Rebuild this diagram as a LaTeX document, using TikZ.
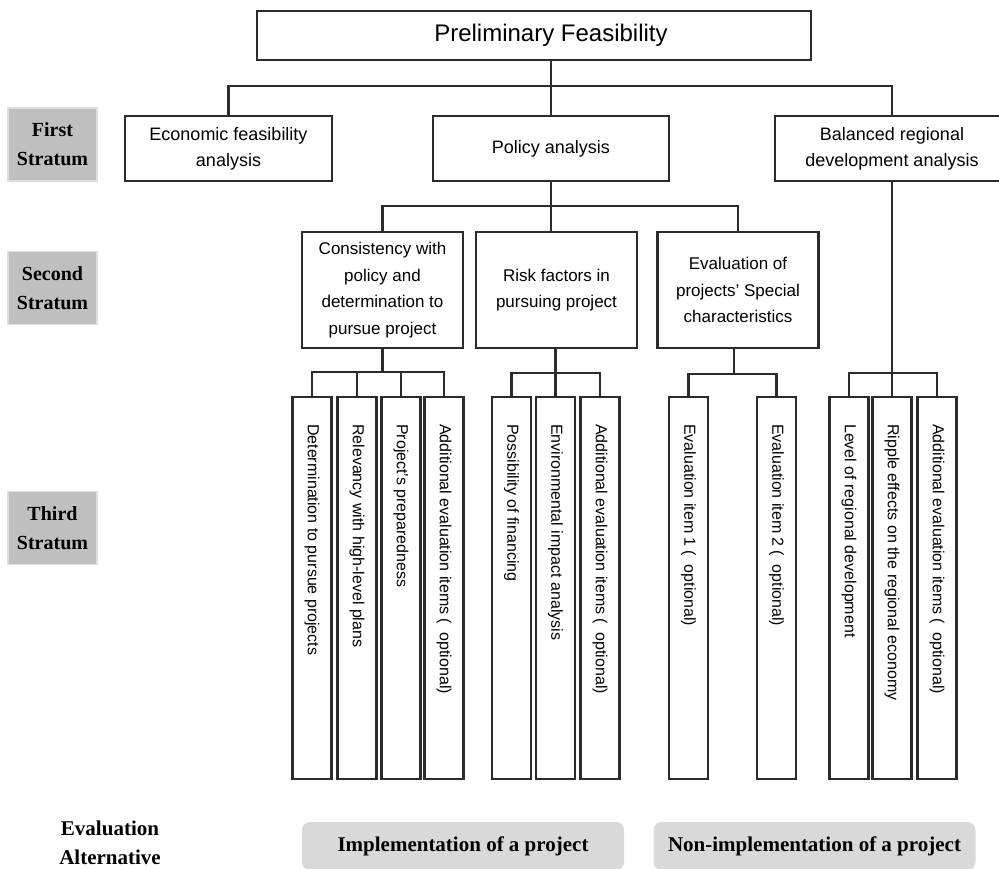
\documentclass[tikz,border=0pt]{standalone}
\usepackage{fontspec}
\setmainfont{Liberation Sans}
\newfontfamily\labelserif{Liberation Serif}
\definecolor{linegray}{HTML}{2B2B2B}
\definecolor{stratumfill}{HTML}{BFBFBF}
\definecolor{stratumedge}{HTML}{DEDEDE}
\definecolor{altfill}{HTML}{D9D9D9}
% wide opening bracket used in the optional-item labels
\newcommand{\fwparen}{\hspace{0.25em}(\hspace{0.55em}}
\begin{document}
\begin{tikzpicture}[x=1pt,y=-1pt,
  conn/.style={draw=linegray, line width=2.2pt},
  box/.style={rectangle, draw=linegray, line width=2.2pt, fill=white,
    inner sep=0pt, align=center},
  toptext/.style={font=\fontsize{24}{28}\selectfont},
  firstbox/.style={box, minimum height=65, font=\fontsize{18}{26}\selectfont},
  secondbox/.style={box, minimum width=161, minimum height=116,
    font=\fontsize{17}{26.7}\selectfont},
  leaf/.style={box, minimum width=39, minimum height=382},
  leaftext/.style={rotate=-90, anchor=west, inner sep=0pt,
    font=\fontsize{16}{19}\selectfont},
  stratum/.style={rectangle, fill=stratumfill, draw=stratumedge, line width=1.5pt,
    minimum width=89, minimum height=73, inner sep=0pt, align=center,
    font=\labelserif\bfseries\fontsize{20}{29}\selectfont},
  altbox/.style={rectangle, rounded corners=8pt, fill=altfill, minimum width=322,
    minimum height=48, inner sep=0pt,
    font=\labelserif\bfseries\fontsize{21}{25}\selectfont},
  altlabel/.style={align=center, inner sep=0pt,
    font=\labelserif\bfseries\fontsize{21}{29}\selectfont}
]
\useasboundingbox (0,0) rectangle (999,868);

% stratum labels on the left
\node[stratum] (s1) at (52.5,144.5) {First\\Stratum};
\node[stratum] (s2) at (52.5,288) {Second\\Stratum};
\node[stratum] (s3) at (52.5,528) {Third\\Stratum};

% root
\node[box, minimum width=554, minimum height=49] (top) at (534,35.5) {};
\node[toptext] (toplabel) at (551,35.5) {Preliminary Feasibility};

% first stratum
\node[firstbox, minimum width=207] (econ) at (228.5,148.5) {Economic feasibility\\analysis};
\node[firstbox, minimum width=236] (pol) at (551,148.5) {Policy analysis};
\node[firstbox, minimum width=234] (bal) at (892,148.5) {Balanced regional\\development analysis};

\coordinate (bus1) at (551,86);
\draw[conn] (toplabel|-top.south) -- (pol.north);
\draw[conn] (econ.north) |- (bus1) -| (bal.north);

% second stratum
\node[secondbox] (cons) at (382.5,290) {Consistency with\\policy and\\determination to\\pursue project};
\node[secondbox] (risk) at (556.5,290) {Risk factors in\\pursuing project};
\node[secondbox] (evalp) at (738,290) {Evaluation of\\projects’ Special\\characteristics};

\coordinate (bus2) at (551,206);
\draw[conn] (pol.south) -- (bus2) -- (bus2|-risk.north);
\draw[conn] (cons.north) |- (bus2) -| (evalp.north);

% third stratum
\foreach \n/\x/\t in {
  c1/312/{Determination to pursue projects},
  c2/357/{Relevancy with high-level plans},
  c3/401/{Project’s preparedness},
  c4/444/{Additional evaluation items\fwparen optional)},
  r1/511.5/{Possibility of financing},
  r2/555.5/{Environmental impact analysis},
  r3/600/{Additional evaluation items\fwparen optional)},
  e1/688.5/{Evaluation item 1\fwparen optional)},
  e2/776.5/{Evaluation item 2\fwparen optional)},
  b1/849/{Level of regional development},
  b2/892/{Ripple effects on the regional economy},
  b3/937/{Additional evaluation items\fwparen optional)}}{
  \node[leaf] (\n) at (\x,588) {};
  \node[leaftext] (\n-t) at ([yshift=-28pt]\n.north) {\t};
}

\coordinate (consbus) at (382.5,372);
\draw[conn] (cons.south) -- (consbus);
\draw[conn] (c1.north) |- (consbus) -| (c4.north);
\draw[conn] (c2.north) -- (c2.north|-consbus);
\draw[conn] (c3.north) -- (c3.north|-consbus);

\coordinate (riskbus) at (555.5,373);
\draw[conn] (risk.south-|riskbus) -- (riskbus);
\draw[conn] (r1.north) |- (riskbus) -| (r3.north);
\draw[conn] (r2.north) -- (riskbus);

\coordinate (evalbus) at (734,374);
\draw[conn] (evalp.south-|evalbus) -- (evalbus);
\draw[conn] (e1.north) |- (evalbus) -| (e2.north);

\coordinate (balbus) at (892,373);
\draw[conn] (bal.south) -- (balbus);
\draw[conn] (b1.north) |- (balbus) -| (b3.north);
\draw[conn] (b2.north) -- (balbus);

% evaluation alternatives
\node[altlabel] (altlab) at (110,842.5) {Evaluation\\Alternative};
\node[altbox] (impl) at (463,846) {Implementation of a project};
\node[altbox] (nonimpl) at (814.5,846) {Non-implementation of a project};
\end{tikzpicture}
\end{document}
